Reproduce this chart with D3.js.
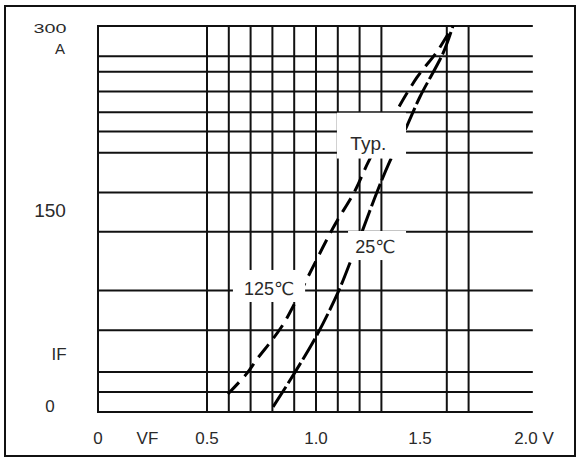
<!DOCTYPE html>
<html>
<head>
<meta charset="utf-8">
<script src="https://cdn.jsdelivr.net/npm/d3@7"></script>
<style>
html,body{margin:0;padding:0;background:#fff;}
svg{display:block;}
text{font-family:"Liberation Sans",Arial,"DejaVu Sans",sans-serif;fill:#2a2a2a;}
</style>
</head>
<body>
<svg id="chart" width="579" height="458"></svg>
<script>
// ---- data ----
const xGridVals = [0, 0.5, 0.6, 0.7, 0.8, 0.9, 1.0, 1.1, 1.2, 1.3, 1.6, 1.7];
const yGridVals = [0, 15.5, 31, 63.5, 94.5, 140, 170.5, 201.5, 218, 233, 249, 264.5, 276.5, 300];
const xTickVals = [0, 0.5, 1.0, 1.5, 2.0];
const xTickLabels = ["0", "0.5", "1.0", "1.5", "2.0 V"];
const yTickVals = [0, 150, 300];
const yTickLabels = ["0", "150", "300"];
const curve125V = [0.596, 0.683, 0.729, 0.803, 0.849, 0.904, 0.972, 1.078, 1.179, 1.239, 1.326, 1.463, 1.555, 1.628];
const curve125I = [14, 30, 41, 57, 68, 85, 108, 143, 172, 194, 221, 260, 280, 300];
const curve25V = [0.803, 0.904, 1.005, 1.101, 1.156, 1.211, 1.280, 1.339, 1.408, 1.477, 1.583, 1.628];
const curve25I = [4, 31, 60, 93, 116, 140, 171, 195, 219, 245, 279, 300];

// ---- layout ----
const svg = d3.select("#chart");
const x = d3.scaleLinear().domain([0, 2]).range([98, 534]);
const y = d3.scaleLinear().domain([0, 300]).range([412, 26]);

// outer frame
svg.append("rect").attr("x", 5).attr("y", 6).attr("width", 570).attr("height", 450)
  .attr("fill", "none").attr("stroke", "#111").attr("stroke-width", 2);

const grid = svg.append("g").attr("stroke", "#111").attr("stroke-width", 2).attr("stroke-linecap", "square");
grid.selectAll("line.h").data(yGridVals).join("line").attr("class", "h")
  .attr("x1", x(0)).attr("x2", x(1.99)).attr("y1", d => y(d)).attr("y2", d => y(d));
grid.selectAll("line.v").data(xGridVals).join("line").attr("class", "v")
  .attr("x1", d => x(d)).attr("x2", d => x(d)).attr("y1", y(0)).attr("y2", y(300));

// curves
const line = d3.line().x(d => x(d[0])).y(d => y(d[1])).curve(d3.curveCatmullRom.alpha(0.5));
const d125 = curve125V.map((v, i) => [v, curve125I[i]]);
const d25 = curve25V.map((v, i) => [v, curve25I[i]]);
svg.append("path").datum(d125).attr("d", line).attr("fill", "none")
  .attr("stroke", "#000").attr("stroke-width", 3).attr("stroke-dasharray", "16,8");
svg.append("path").datum(d25).attr("d", line).attr("fill", "none")
  .attr("stroke", "#000").attr("stroke-width", 3).attr("stroke-dasharray", "24,4");

// annotation boxes (white knock-outs) and labels
const notes = [
  {t: "Typ.", cx: 1.240, cy: 209, box: [1.096, 1.413, 197, 232.6], fs: 19},
  {t: "125℃", cx: 0.785, cy: 95.5, box: [0.619, 0.950, 85.5, 110.4], fs: 18},
  {t: "25℃", cx: 1.272, cy: 128, box: [1.147, 1.413, 118.1, 140.7], fs: 18}
];
svg.selectAll("rect.knock").data(notes).join("rect").attr("class", "knock")
  .attr("x", d => x(d.box[0])).attr("width", d => x(d.box[1]) - x(d.box[0]))
  .attr("y", d => y(d.box[3])).attr("height", d => y(d.box[2]) - y(d.box[3]))
  .attr("fill", "#fff");
svg.selectAll("text.note").data(notes).join("text").attr("class", "note")
  .attr("x", d => x(d.cx)).attr("y", d => y(d.cy))
  .attr("text-anchor", "middle").attr("dominant-baseline", "central")
  .attr("font-size", d => d.fs).text(d => d.t);

// x tick labels
svg.selectAll("text.xt").data(xTickVals).join("text").attr("class", "xt")
  .attr("x", d => x(d) + (d === 1.5 ? -5 : 0))
  .attr("y", 444).attr("text-anchor", "middle").attr("font-size", 17)
  .text((d, i) => xTickLabels[i]);
svg.append("text").attr("x", x(0.227)).attr("y", 444).attr("text-anchor", "middle")
  .attr("font-size", 17).text("VF");

// y tick labels
const yt = svg.selectAll("text.yt").data(yTickVals).join("text").attr("class", "yt")
  .attr("x", 50).attr("y", d => d === 300 ? y(d) + 2 : (d === 150 ? y(d) - 9 : y(d) - 6))
  .attr("text-anchor", "middle").attr("dominant-baseline", "central")
  .attr("font-size", d => d === 300 ? 13 : (d === 150 ? 19 : 17))
  .text((d, i) => yTickLabels[i]);
yt.filter(d => d === 300).attr("textLength", 33).attr("lengthAdjust", "spacingAndGlyphs");
svg.append("text").attr("x", 60).attr("y", 48).attr("text-anchor", "middle")
  .attr("dominant-baseline", "central").attr("font-size", 15).text("A");
svg.append("text").attr("x", 59).attr("y", y(45)).attr("text-anchor", "middle")
  .attr("dominant-baseline", "central").attr("font-size", 17).text("IF");
</script>
</body>
</html>
